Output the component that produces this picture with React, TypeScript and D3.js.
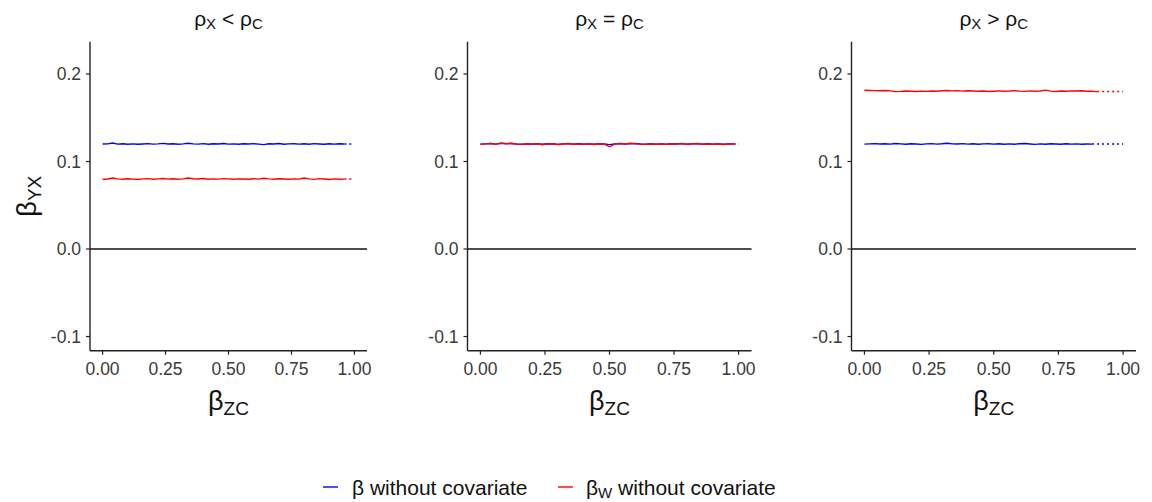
import React from "react";
import * as d3 from "d3";

// x grid (beta_ZC)
const betaZC = [
  0, 0.02, 0.04, 0.06, 0.08, 0.1, 0.12, 0.14, 0.16, 0.18, 0.2, 0.22, 0.24, 0.26, 0.28, 0.3, 0.32,
  0.34, 0.36, 0.38, 0.4, 0.42, 0.44, 0.46, 0.48, 0.5, 0.52, 0.54, 0.56, 0.58, 0.6, 0.62, 0.64,
  0.66, 0.68, 0.7, 0.72, 0.74, 0.76, 0.78, 0.8, 0.82, 0.84, 0.86, 0.88, 0.9, 0.92, 0.94, 0.96, 0.98,
];

// panel 1: rho_X < rho_C
const p1Beta = [
  0.12, 0.1202, 0.1212, 0.1199, 0.1203, 0.1198, 0.1201, 0.1197, 0.12, 0.1204, 0.1199, 0.1202,
  0.1207, 0.12, 0.1203, 0.1198, 0.1202, 0.1209, 0.1201, 0.1199, 0.1204, 0.1198, 0.1203, 0.12,
  0.1206, 0.1199, 0.1201, 0.1197, 0.1203, 0.12, 0.1204, 0.1198, 0.1193, 0.1202, 0.12, 0.1205,
  0.1198, 0.1201, 0.1203, 0.1199, 0.1202, 0.1198, 0.1204, 0.12, 0.1197, 0.1202, 0.1199, 0.1203,
  0.12,
];
const p1BetaW = [
  0.0795, 0.08, 0.0812, 0.0801, 0.0797, 0.0803, 0.0799, 0.0794, 0.0801, 0.0804, 0.0798, 0.0802,
  0.0806, 0.0799, 0.0803, 0.0797, 0.0801, 0.0812, 0.0803, 0.08, 0.0805, 0.0798, 0.0802, 0.0799,
  0.0804, 0.0801, 0.0798, 0.0802, 0.08, 0.0797, 0.0803, 0.0799, 0.0809, 0.0801, 0.0798, 0.0803,
  0.08, 0.0797, 0.0802, 0.0799, 0.0811, 0.0802, 0.0796, 0.0804, 0.08, 0.0795, 0.0801, 0.0797,
  0.0799,
];

// panel 2: rho_X = rho_C
const p2Beta = [
  0.1198, 0.1202, 0.1205, 0.1199, 0.1208, 0.1203, 0.1206, 0.12, 0.1197, 0.1201, 0.1199, 0.1203,
  0.1198, 0.1202, 0.12, 0.1196, 0.1201, 0.1204, 0.1199, 0.1202, 0.1198, 0.1201, 0.1199, 0.1203,
  0.12, 0.1193, 0.12, 0.1204, 0.1199, 0.1202, 0.1206, 0.12, 0.1198, 0.1203, 0.1199, 0.1201,
  0.1197, 0.1202, 0.12, 0.1204, 0.1198, 0.1201, 0.1203, 0.1199, 0.1202, 0.1198, 0.1201, 0.1197,
  0.12, 0.1202,
];
const p2BetaW = [
  0.1197, 0.1201, 0.1207, 0.1198, 0.121, 0.1204, 0.1208, 0.1199, 0.1196, 0.1202, 0.12, 0.1204,
  0.1192, 0.1201, 0.1203, 0.1195, 0.12, 0.1205, 0.1197, 0.1201, 0.1199, 0.1202, 0.1195, 0.1203,
  0.1199, 0.1168, 0.1198, 0.1205, 0.12, 0.121, 0.1204, 0.1199, 0.1196, 0.1203, 0.1198, 0.1201,
  0.1196, 0.1203, 0.1199, 0.1205, 0.1197, 0.1202, 0.1206, 0.1198, 0.1201, 0.1197, 0.1203, 0.1194,
  0.1198, 0.12,
];

// panel 3: rho_X > rho_C
const p3Beta = [
  0.1198, 0.1201, 0.1204, 0.12, 0.1203, 0.1199, 0.1206, 0.1201, 0.1197, 0.1203, 0.12, 0.1196,
  0.1201, 0.1204, 0.1199, 0.1203, 0.1209, 0.1202, 0.12, 0.1204, 0.1199, 0.1202, 0.1198, 0.1201,
  0.1203, 0.1199, 0.1202, 0.1197, 0.1201, 0.1198, 0.1203, 0.1205, 0.12, 0.1196, 0.1201, 0.1198,
  0.1202, 0.12, 0.1197, 0.1203, 0.1199, 0.1201, 0.1198, 0.12, 0.1199,
];
const p3BetaW = [
  0.1815, 0.1812, 0.181, 0.1808, 0.1811, 0.1807, 0.1799, 0.1801, 0.1805, 0.1802, 0.18, 0.1804,
  0.1801, 0.1806, 0.1803, 0.1808, 0.1811, 0.1807, 0.181, 0.1804, 0.1808, 0.1806, 0.1802, 0.1805,
  0.18, 0.1803, 0.1807, 0.1802, 0.1805, 0.181, 0.1804, 0.1801, 0.1807, 0.1803, 0.1806, 0.1815,
  0.1804, 0.18, 0.1805, 0.1803, 0.1807, 0.1805, 0.1808, 0.1802, 0.1804, 0.1796,
];

// expected values, drawn dotted past the end of the simulated series
const refBeta = [0.12, 0.12, 0.12];
const refBetaW = [0.08, 0.12, 0.18];
const relations = ["<", "=", ">"];

const yTicks = [-0.1, 0.0, 0.1, 0.2];
const xTicks = [0, 0.25, 0.5, 0.75, 1];

const FONT = "'Liberation Sans', Arial, Helvetica, sans-serif";
const BLUE = "#0000ff";
const RED = "#ff0000";
const AXIS = "#222";
const TICK_TXT = "#3a3a3a";

const panels = [
  { left: 90, right: 367, blue: p1Beta, red: p1BetaW },
  { left: 467.5, right: 751.5, blue: p2Beta, red: p2BetaW },
  { left: 851.5, right: 1136, blue: p3Beta, red: p3BetaW },
];

const top = 41.7;
const bottom = 350.7;
const y = d3.scaleLinear().domain([-0.1162, 0.2369]).range([bottom, top]);

const fmtY = (v: number) => d3.format(".1f")(v).replace("−", "-");
const fmtX = d3.format(".2f");

const Panel = ({ idx }: { idx: number }) => {
  const p = panels[idx];
  const x = d3.scaleLinear().domain([-0.05, 1.05]).range([p.left, p.right]);
  const line = d3
    .line<number>()
    .x((_, i) => x(betaZC[i]))
    .y((d) => y(d));
  const seg = d3
    .line<[number, number]>()
    .x((d) => x(d[0]))
    .y((d) => y(d[1]));
  const cx = (p.left + p.right) / 2;
  const series = [
    { vals: p.blue, ref: refBeta[idx], color: BLUE },
    { vals: p.red, ref: refBetaW[idx], color: RED },
  ];

  return (
    <g>
      {/* panel title */}
      <text x={cx} y={26} textAnchor="middle" fontSize={21} fill="#111" fontFamily={FONT}>
        <tspan>ρ</tspan>
        <tspan fontSize={15} dy={3}>X</tspan>
        <tspan dy={-3}>{` ${relations[idx]} ρ`}</tspan>
        <tspan fontSize={15} dy={3}>C</tspan>
      </text>

      {/* zero line */}
      <line x1={p.left} x2={p.right} y1={y(0)} y2={y(0)} stroke="#111" strokeWidth={1.3} />

      {/* series */}
      {series.map((s, k) => {
        const lastX = betaZC[s.vals.length - 1];
        return (
          <g key={k}>
            <path
              d={seg([
                [lastX, s.ref],
                [1, s.ref],
              ]) as string}
              fill="none"
              stroke={s.color}
              strokeWidth={1.4}
              strokeDasharray="2 3"
            />
            <path d={line(s.vals) as string} fill="none" stroke={s.color} strokeWidth={1.4} />
          </g>
        );
      })}

      {/* y axis */}
      <line x1={p.left} x2={p.left} y1={top} y2={bottom} stroke={AXIS} strokeWidth={1.4} />
      {yTicks.map((t) => (
        <g key={t}>
          <line x1={p.left - 4} x2={p.left} y1={y(t)} y2={y(t)} stroke={AXIS} strokeWidth={1.2} />
          <text
            x={p.left - 9}
            y={y(t)}
            dy="0.36em"
            textAnchor="end"
            fontSize={17.5}
            fill={TICK_TXT}
            fontFamily={FONT}
          >
            {fmtY(t)}
          </text>
        </g>
      ))}

      {/* x axis */}
      <line x1={p.left} x2={p.right} y1={bottom} y2={bottom} stroke={AXIS} strokeWidth={1.4} />
      {xTicks.map((t) => (
        <g key={t}>
          <line x1={x(t)} x2={x(t)} y1={bottom} y2={bottom + 4} stroke={AXIS} strokeWidth={1.2} />
          <text
            x={x(t)}
            y={375}
            textAnchor="middle"
            fontSize={17.5}
            fill={TICK_TXT}
            fontFamily={FONT}
          >
            {fmtX(t)}
          </text>
        </g>
      ))}

      {/* x title */}
      <text x={cx} y={410} textAnchor="middle" fontSize={27} fill="#111" fontFamily={FONT}>
        <tspan>β</tspan>
        <tspan fontSize={19} dy={5}>ZC</tspan>
      </text>
    </g>
  );
};

export default function App() {
  return (
    <svg
      width={1152}
      height={502}
      style={{ position: "absolute", left: 0, top: 0, background: "#fff" }}
    >
      <rect width={1152} height={502} fill="#fff" />
      {panels.map((_, i) => (
        <Panel key={i} idx={i} />
      ))}

      {/* y title */}
      <text
        transform={`translate(36, ${(top + bottom) / 2}) rotate(-90)`}
        textAnchor="middle"
        fontSize={27}
        fill="#111"
        fontFamily={FONT}
      >
        <tspan>β</tspan>
        <tspan fontSize={19} dy={5}>YX</tspan>
      </text>

      {/* legend */}
      <line x1={323} x2={338} y1={487} y2={487} stroke={BLUE} strokeWidth={1.4} />
      <text x={352} y={495} fontSize={21} fill="#111" fontFamily={FONT}>
        β without covariate
      </text>
      <line x1={558} x2={573} y1={487} y2={487} stroke={RED} strokeWidth={1.4} />
      <text x={586} y={495} fontSize={21} fill="#111" fontFamily={FONT}>
        <tspan>β</tspan>
        <tspan fontSize={15} dy={3}>W</tspan>
        <tspan dy={-3}> without covariate</tspan>
      </text>
    </svg>
  );
}
